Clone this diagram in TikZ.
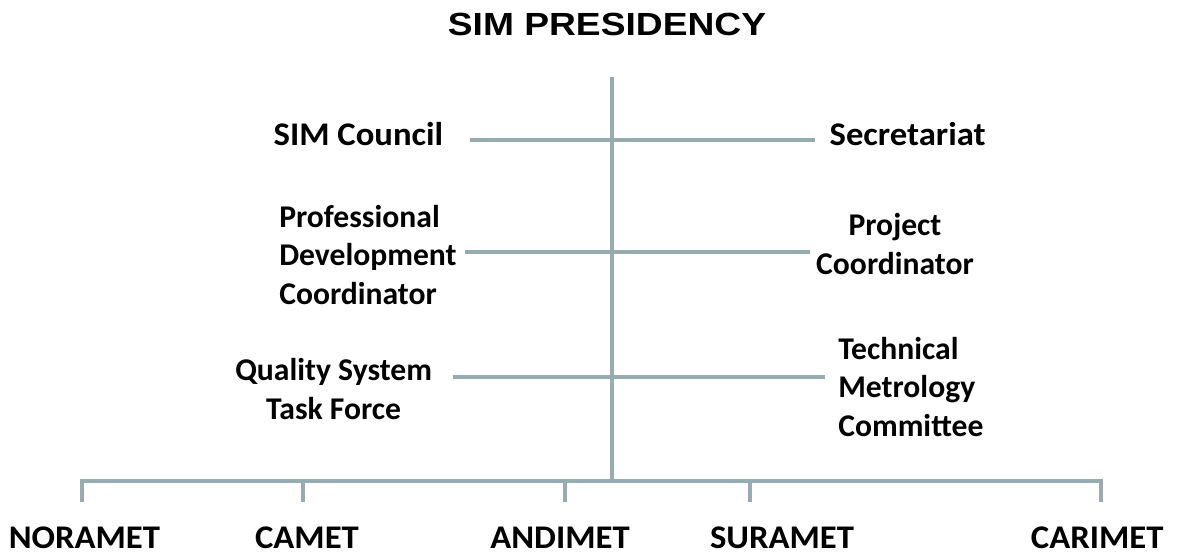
\documentclass[tikz,border=0pt]{standalone}
\usepackage{fontspec}
\setmainfont{Carlito}
\newfontfamily\widefont[FakeStretch=1.05]{Carlito}
\newfontfamily\titlefont[FakeStretch=1.16]{Liberation Sans}
\usepackage{xcolor}
\usepackage{tikz}
\usetikzlibrary{positioning,calc}
\definecolor{linegray}{RGB}{150, 172, 177}

\begin{document}
\begin{tikzpicture}[
    unit/.style={inner sep=0pt, font=\fontsize{22.5}{27.7}\selectfont\bfseries},
    leftunit/.style={unit, align=left, anchor=west},
    midunit/.style={unit, align=center},
    region/.style={inner sep=0pt, anchor=base, font=\widefont\fontsize{23.5}{27.7}\selectfont\bfseries},
    branch/.style={draw=linegray, line width=2.85pt}
]
\useasboundingbox (0,0) rectangle (29.45,-13.9);

% Title
\node[inner sep=0pt, font=\titlefont\fontsize{22.8}{26}\selectfont\bfseries] (title) at (15.175,-0.6) {SIM PRESIDENCY};

% Trunk - top end and the bus it joins
\coordinate (top) at (15.3,-1.925);
\coordinate (hub) at (15.3,-12.025);
\coordinate (j1) at (15.3,-3.5);
\coordinate (j2) at (15.3,-6.3);
\coordinate (j3) at (15.3,-9.425);

% Left side units
\node[region] (council) at (8.96,-3.625) {SIM Council};
\node[leftunit] (pdc) at (6.975,-6.375) {Professional\\Development\\Coordinator};
\node[midunit] (qst) at (8.34,-9.725) {Quality System\\Task Force};

% Right side units
\node[region] (secr) at (22.69,-3.625) {Secretariat};
\node[midunit] (pc) at (22.375,-6.1) {Project\\Coordinator};
\node[leftunit] (tmc) at (20.95,-9.675) {Technical\\Metrology\\Committee};

% Branch ends
\coordinate (b1l) at (11.75,-3.5);
\coordinate (b1r) at (20.375,-3.5);
\coordinate (b2l) at (11.625,-6.3);
\coordinate (b2r) at (20.25,-6.3);
\coordinate (b3l) at (11.325,-9.425);
\coordinate (b3r) at (20.625,-9.425);

\draw[branch] (top) -- (hub);
\draw[branch] (b1l) -- (j1) -- (b1r);
\draw[branch] (b2l) -- (j2) -- (b2r);
\draw[branch] (b3l) -- (j3) -- (b3r);

% Regional organizations
\node[region] (noramet) at (2.11,-13.7) {NORAMET};
\node[region] (camet) at (7.675,-13.7) {CAMET};
\node[region] (andimet) at (14.0,-13.7) {ANDIMET};
\node[region] (suramet) at (19.55,-13.7) {SURAMET};
\node[region] (carimet) at (27.43,-13.7) {CARIMET};

% Tick ends
\coordinate (t1) at (2.05,-12.55);
\coordinate (t2) at (7.575,-12.55);
\coordinate (t3) at (14.125,-12.55);
\coordinate (t4) at (18.75,-12.55);
\coordinate (t5) at (27.525,-12.55);

\draw[branch] (t1) -- (t1 |- hub) -- (t5 |- hub) -- (t5);
\foreach \t in {t2,t3,t4}
    \draw[branch] (\t) -- (\t |- hub);

\end{tikzpicture}
\end{document}
